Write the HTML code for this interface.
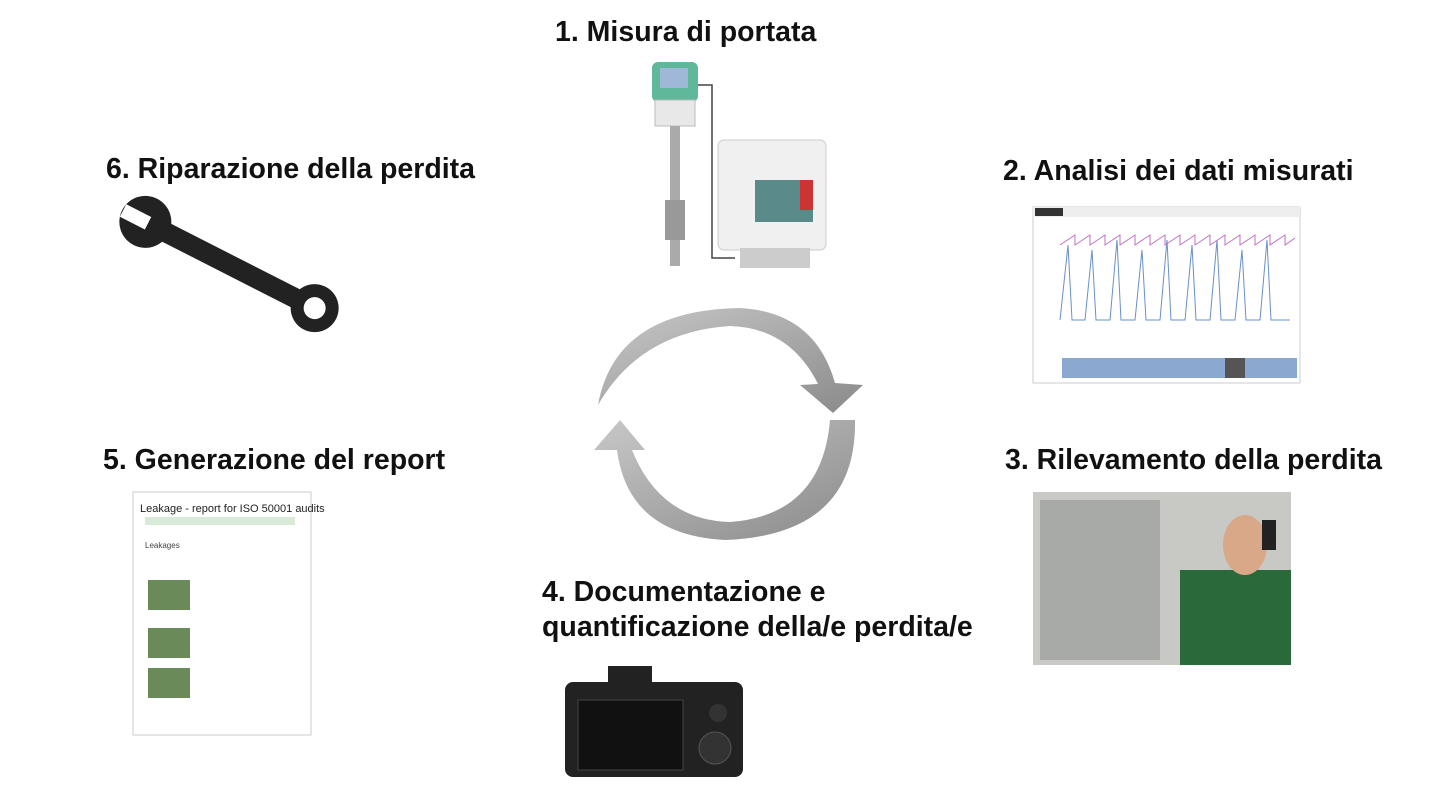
<!DOCTYPE html>
<html><head><meta charset="utf-8"><style>
body{margin:0;width:1440px;height:809px;background:#fff;position:relative;overflow:hidden;font-family:"Liberation Sans",Arial,sans-serif}
.t{position:absolute;font-weight:bold;font-size:28.5px;color:#111;white-space:nowrap;line-height:34px}
.a{position:absolute}
</style></head><body>
<div class="t" style="left:555px;top:15px">1. Misura di portata</div>
<div class="t" style="left:106px;top:152px">6. Riparazione della perdita</div>
<div class="t" style="left:1003px;top:154px">2. Analisi dei dati misurati</div>
<div class="t" style="left:103px;top:443px">5. Generazione del report</div>
<div class="t" style="left:1005px;top:443px">3. Rilevamento della perdita</div>
<div class="t" style="left:542px;top:575px">4. Documentazione e</div>
<div class="t" style="left:542px;top:610px">quantificazione della/e perdita/e</div>

<svg class="a" style="left:0;top:0" width="1440" height="809">
<defs><linearGradient id="g" x1="0" y1="0" x2="1" y2="1"><stop offset="0" stop-color="#c8c8c8"/><stop offset="1" stop-color="#8a8a8a"/></linearGradient></defs>
<path d="M598,405 Q615,310 740,308 Q815,312 835,383 L863,385 L833,413 L800,385 L818,384 Q790,328 730,326 Q640,332 598,405 Z" fill="url(#g)"/>
<path d="M855,420 Q857,535 725,540 Q628,535 617,450 L594,450 L620,420 L645,450 L632,450 Q660,520 730,522 Q822,515 830,420 Z" fill="url(#g)"/>
<rect x="652" y="62" width="46" height="40" rx="6" fill="#5fb89a"/>
<rect x="660" y="68" width="28" height="20" fill="#9fb8d8"/>
<rect x="655" y="100" width="40" height="26" fill="#e8e8e8" stroke="#bbb"/>
<rect x="670" y="126" width="10" height="140" fill="#aaa"/>
<rect x="665" y="200" width="20" height="40" fill="#999"/>
<path d="M698,85 H712 V258 H735" stroke="#444" fill="none" stroke-width="1.5"/>
<rect x="718" y="140" width="108" height="110" rx="6" fill="#f0f0f0" stroke="#ccc"/>
<rect x="755" y="180" width="58" height="42" fill="#5a8a8a"/>
<rect x="800" y="180" width="13" height="30" fill="#c33"/>
<rect x="740" y="248" width="70" height="20" fill="#ccc"/>
<g transform="rotate(27 230 265)">
<rect x="150" y="255" width="160" height="20" rx="6" fill="#222"/>
<circle cx="135" cy="265" r="26" fill="#222"/><rect x="110" y="258" width="28" height="14" fill="#fff"/>
<circle cx="325" cy="265" r="24" fill="#222"/><circle cx="325" cy="265" r="11" fill="#fff"/>
</g>
<rect x="1033" y="207" width="267" height="176" fill="#fff" stroke="#ccc"/>
<rect x="1033" y="207" width="267" height="10" fill="#eee"/>
<rect x="1035" y="208" width="28" height="8" fill="#333"/>
<polyline fill="none" stroke="#6a8fc8" stroke-width="1" points="1060,320 1068,245 1072,320 1085,320 1092,250 1096,320 1110,320 1117,240 1121,320 1135,320 1142,250 1146,320 1160,320 1167,240 1171,320 1185,320 1192,245 1196,320 1210,320 1217,240 1221,320 1235,320 1242,250 1246,320 1260,320 1267,240 1271,320 1290,320"/>
<polyline fill="none" stroke="#c070c0" stroke-width="1" points="1060,245 1075,235 1075,245 1090,235 1090,245 1105,235 1105,245 1120,235 1120,245 1135,235 1135,245 1150,235 1150,245 1165,235 1165,245 1180,235 1180,245 1195,235 1195,245 1210,235 1210,245 1225,235 1225,245 1240,235 1240,245 1255,235 1255,245 1270,235 1270,245 1285,235 1285,245 1295,238"/>
<rect x="1062" y="358" width="235" height="20" fill="#8aa8d0"/>
<rect x="1225" y="358" width="20" height="20" fill="#555"/>
<rect x="1033" y="492" width="258" height="173" fill="#c8c8c4"/>
<rect x="1040" y="500" width="120" height="160" fill="#a8aaa8"/>
<rect x="1180" y="570" width="111" height="95" fill="#2a6a3a"/>
<ellipse cx="1245" cy="545" rx="22" ry="30" fill="#d8a888"/>
<rect x="1262" y="520" width="14" height="30" fill="#222"/>
<rect x="133" y="492" width="178" height="243" fill="#fff" stroke="#ccc"/>
<text x="140" y="512" font-family="Liberation Sans" font-size="11" fill="#222">Leakage - report for ISO 50001 audits</text>
<rect x="145" y="517" width="150" height="8" fill="#d8ead8"/>
<text x="145" y="548" font-family="Liberation Sans" font-size="8" fill="#444">Leakages</text>
<rect x="148" y="580" width="42" height="30" fill="#6a8a5a"/>
<rect x="148" y="628" width="42" height="30" fill="#6a8a5a"/>
<rect x="148" y="668" width="42" height="30" fill="#6a8a5a"/>
<rect x="565" y="682" width="178" height="95" rx="8" fill="#222"/>
<rect x="608" y="666" width="44" height="20" fill="#222"/>
<rect x="578" y="700" width="105" height="70" fill="#111" stroke="#444"/>
<circle cx="715" cy="748" r="16" fill="#333" stroke="#555"/>
<circle cx="718" cy="713" r="9" fill="#333"/>
</svg>
</body></html>
